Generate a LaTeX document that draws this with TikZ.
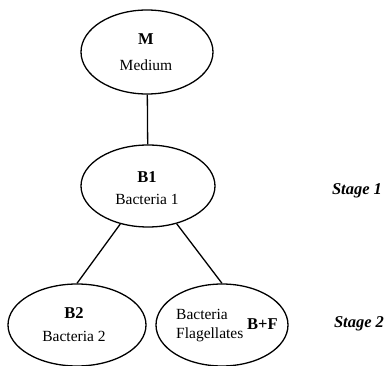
\documentclass[tikz,border=0pt]{standalone}
\usepackage{fontspec}
\setmainfont{Liberation Serif}
\usetikzlibrary{shapes.geometric}
\begin{document}
\begin{tikzpicture}[x=1pt,y=-1pt,
  oval/.style={draw,ellipse,line width=1.3pt,inner sep=0pt},
  big/.style={font=\fontsize{16.5}{18}\selectfont\bfseries,anchor=base,inner sep=0pt},
  small/.style={font=\fontsize{15.5}{17}\selectfont,anchor=base,inner sep=0pt},
  stagelbl/.style={font=\fontsize{16.5}{18}\selectfont\bfseries\itshape,anchor=base,inner sep=0pt},
  link/.style={line width=1.3pt}]
\useasboundingbox (0,0) rectangle (389,366);
\node[oval,minimum width=132pt,minimum height=84pt] (M) at (147,52) {};
\node[oval,minimum width=134pt,minimum height=82pt] (B1) at (148,186) {};
\node[oval,minimum width=138pt,minimum height=82pt] (B2) at (77,325) {};
\node[oval,minimum width=132pt,minimum height=82pt] (BF) at (222,325) {};
\node[big] (mt) at (146,45) {M};
\node[small] (mm) at (146,71) {Medium};
\node[big] (b1t) at (147,183) {B1};
\node[small] (b1m) at (147,205) {Bacteria 1};
\node[big] (b2t) at (74,319) {B2};
\node[small] (b2m) at (74,342) {Bacteria 2};
\node[small,anchor=base west] (bfa) at (176,320) {Bacteria};
\node[small,anchor=base west] (bfb) at (176,339) {Flagellates};
\node[big,anchor=base west] (bft) at (247,330) {B+F};
\node[stagelbl] (s1) at (357,195) {Stage 1};
\node[stagelbl] (s2) at (359,328) {Stage 2};
\draw[link] (M) -- (B1);
\draw[link] (B1) -- (B2.north);
\draw[link] (B1) -- (BF.north);
\end{tikzpicture}
\end{document}
